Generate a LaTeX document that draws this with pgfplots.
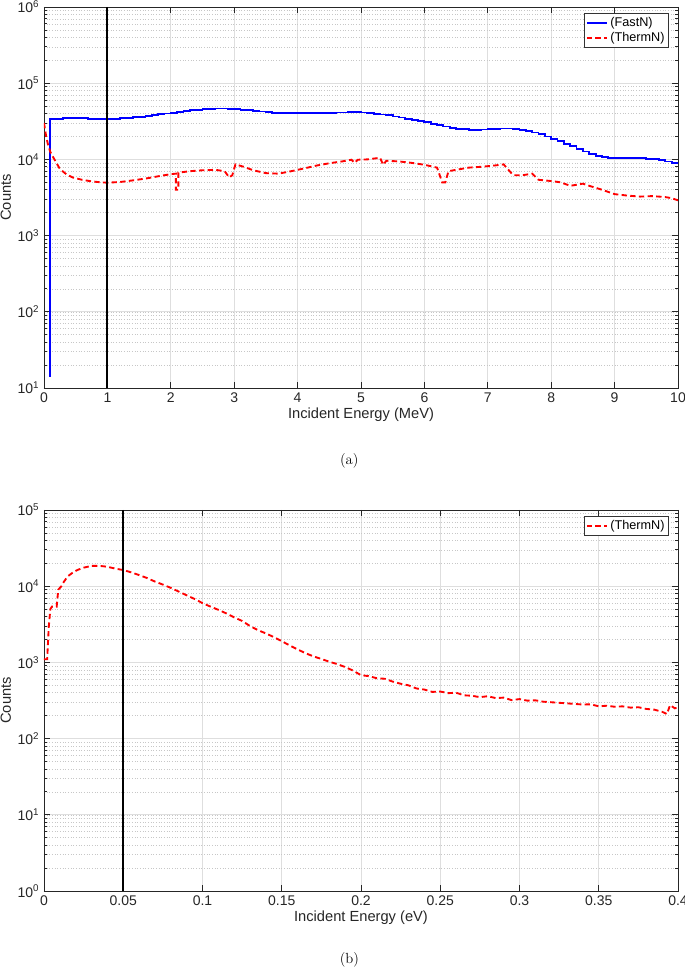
\documentclass[border=0pt]{standalone}
\usepackage{fontspec}
\setsansfont{Liberation Sans}
\usepackage{pgfplots}
\usepackage{pgfplotstable}
\pgfplotsset{compat=1.18}

\pgfplotstableread{
x y
0.1 14
0.1 3.40e4
0.2 3.42e4
0.3 3.45e4
0.4 3.46e4
0.5 3.46e4
0.6 3.45e4
0.7 3.43e4
0.8 3.41e4
0.9 3.38e4
1.0 3.38e4
1.1 3.40e4
1.2 3.45e4
1.3 3.50e4
1.4 3.56e4
1.5 3.62e4
1.6 3.70e4
1.7 3.80e4
1.8 3.90e4
1.9 4.00e4
2.0 4.10e4
2.1 4.20e4
2.2 4.30e4
2.3 4.40e4
2.4 4.48e4
2.5 4.55e4
2.6 4.60e4
2.7 4.65e4
2.8 4.65e4
2.9 4.62e4
3.0 4.58e4
3.1 4.50e4
3.2 4.42e4
3.3 4.33e4
3.4 4.25e4
3.5 4.17e4
3.6 4.10e4
3.7 4.06e4
3.8 4.03e4
3.9 4.02e4
4.0 4.02e4
4.1 4.03e4
4.2 4.05e4
4.3 4.07e4
4.4 4.09e4
4.5 4.10e4
4.6 4.12e4
4.7 4.13e4
4.8 4.14e4
4.9 4.14e4
5.0 4.12e4
5.1 4.05e4
5.2 3.97e4
5.3 3.88e4
5.4 3.78e4
5.5 3.66e4
5.6 3.55e4
5.7 3.43e4
5.8 3.32e4
5.9 3.20e4
6.0 3.08e4
6.1 2.95e4
6.2 2.82e4
6.3 2.70e4
6.4 2.60e4
6.5 2.53e4
6.6 2.48e4
6.7 2.46e4
6.8 2.46e4
6.9 2.47e4
7.0 2.49e4
7.1 2.52e4
7.2 2.54e4
7.3 2.54e4
7.4 2.50e4
7.5 2.44e4
7.6 2.36e4
7.7 2.25e4
7.8 2.13e4
7.9 2.00e4
8.0 1.87e4
8.1 1.74e4
8.2 1.60e4
8.3 1.48e4
8.4 1.37e4
8.5 1.27e4
8.6 1.19e4
8.7 1.12e4
8.8 1.07e4
8.9 1.04e4
9.0 1.03e4
9.1 1.03e4
9.2 1.04e4
9.3 1.04e4
9.4 1.04e4
9.5 1.02e4
9.6 1.00e4
9.7 9.7e3
9.8 9.4e3
9.9 9.0e3
10.0 8.8e3
}\fastN

\pgfplotstableread{
x y
0 3.0e4
0.03 2.1e4
0.06 1.6e4
0.1 1.25e4
0.15 1.05e4
0.25 7.5e3
0.35 6.4e3
0.45 5.8e3
0.6 5.4e3
0.75 5.15e3
0.9 5.0e3
1.0 4.95e3
1.2 5.05e3
1.4 5.3e3
1.6 5.6e3
1.8 6.0e3
2.0 6.4e3
2.08 6.5e3
2.08 4.0e3
2.12 4.0e3
2.12 6.7e3
2.3 7.0e3
2.5 7.2e3
2.7 7.3e3
2.85 7.0e3
2.92 5.8e3
2.97 6.2e3
3.02 8.6e3
3.15 8.0e3
3.3 7.2e3
3.5 6.6e3
3.7 6.5e3
3.9 7.0e3
4.1 7.6e3
4.3 8.3e3
4.5 8.9e3
4.7 9.4e3
4.85 9.9e3
4.9 9.0e3
4.95 9.9e3
5.1 1.0e4
5.3 1.05e4
5.35 8.5e3
5.4 9.6e3
5.6 9.4e3
5.8 9.0e3
6.0 8.5e3
6.2 7.8e3
6.28 5.0e3
6.33 5.0e3
6.38 7.0e3
6.5 7.3e3
6.7 7.8e3
6.9 8.0e3
7.1 8.3e3
7.25 8.6e3
7.4 6.2e3
7.55 6.2e3
7.7 6.5e3
7.8 5.4e3
8.0 5.2e3
8.15 5.0e3
8.3 4.5e3
8.5 4.8e3
8.6 4.5e3
8.8 4.0e3
9.0 3.5e3
9.2 3.35e3
9.4 3.25e3
9.6 3.3e3
9.8 3.2e3
9.9 3.1e3
10 2.9e3
}\thermTop

\pgfplotstableread{
x y
0.0 1100
0.002 1100
0.003 2900
0.004 5000
0.005 5400
0.008 5400
0.009 9000
0.011 10000
0.012 11000
0.015 13500
0.018 15000
0.021 16300
0.025 17500
0.03 18500
0.035 18500
0.04 18000
0.045 17000
0.05 16300
0.055 15200
0.06 14000
0.065 12800
0.07 11500
0.075 10500
0.08 9500
0.085 8500
0.09 7600
0.095 6800
0.10 6000
0.105 5400
0.11 4900
0.115 4400
0.12 3900
0.125 3500
0.13 3000
0.135 2650
0.14 2400
0.145 2150
0.15 1900
0.155 1670
0.16 1480
0.165 1320
0.17 1200
0.175 1110
0.18 1020
0.185 950
0.19 870
0.195 780
0.20 680
0.205 660
0.21 620
0.215 610
0.22 560
0.225 525
0.23 500
0.235 455
0.24 440
0.245 410
0.25 415
0.255 395
0.26 400
0.265 370
0.27 365
0.275 350
0.28 360
0.285 340
0.29 345
0.295 320
0.30 330
0.305 315
0.31 318
0.315 305
0.32 300
0.325 295
0.33 290
0.335 285
0.34 280
0.345 282
0.35 265
0.355 270
0.36 262
0.365 265
0.37 255
0.375 258
0.38 245
0.385 240
0.39 225
0.393 210
0.395 275
0.398 250
0.4 255
}\thermBot

\pgfplotsset{
 mystyle/.style={
  scale only axis, width=475.5pt, height=285.75pt,
  axis line style={black!85, line width=0.7pt},
  tick align=inside,
  major tick length=4.5pt, minor tick length=2.3pt,
  every tick/.style={black!85, line width=0.6pt},
  xmajorgrids, ymajorgrids, yminorgrids,
  major grid style={black!13, line width=0.5pt},
  minor grid style={black!22, line width=0.4pt, dash pattern=on 0.6pt off 1.4pt},
  tick label style={font=\sffamily\fontsize{10.5}{12}\selectfont, black!85},
  label style={font=\sffamily\fontsize{11}{13}\selectfont, black!85},
  xlabel style={yshift=3pt},
  ylabel style={yshift=-2pt},
  legend style={at={(1,1)}, anchor=north east, xshift=-6.75pt, yshift=-4.5pt,
    draw=black!80, line width=0.6pt, font=\sffamily\fontsize{9.5}{10}\selectfont,
    inner sep=1pt, row sep=-1pt},
  legend cell align=left,
 }
}

\begin{document}
\begin{tikzpicture}
\path[use as bounding box] (-33pt,-439.5pt) rectangle (480.75pt,291pt);
\begin{semilogyaxis}[mystyle, at={(0,0)}, anchor=south west,
  legend image code/.code={\draw[#1] (0pt,0pt) -- (15pt,0pt);},
  xmin=0, xmax=10, ymin=10, ymax=1e6,
  xtick={0,1,...,10},
  xticklabels={0,1,2,3,4,5,6,7,8,9,10},
  ytick={10,100,1000,10000,100000,1000000},
  yticklabels={10\textsuperscript{1},10\textsuperscript{2},10\textsuperscript{3},10\textsuperscript{4},10\textsuperscript{5},10\textsuperscript{6}},
  xlabel={Incident Energy (MeV)}, ylabel={Counts}]
\addplot[const plot mark left, draw=blue, line width=1.4pt] table[x=x,y=y] {\fastN};
\addlegendentry{(FastN)}
\addplot[red, line width=1.4pt, dash pattern=on 4pt off 2.5pt] table[x=x,y=y] {\thermTop};
\addlegendentry{(ThermN)}
\addplot[black, line width=1.5pt, forget plot] coordinates {(1,10) (1,1e6)};
\end{semilogyaxis}

\begin{semilogyaxis}[mystyle, at={(0,-377.25pt)}, anchor=south west,
  legend image code/.code={\draw[#1] (0pt,0pt) -- (15pt,0pt);},
  xmin=0, xmax=0.4, ymin=1, ymax=1e5,
  xtick={0,0.05,...,0.4},
  xticklabels={0,0.05,0.1,0.15,0.2,0.25,0.3,0.35,0.4},
  ytick={1,10,100,1000,10000,100000},
  yticklabels={10\textsuperscript{0},10\textsuperscript{1},10\textsuperscript{2},10\textsuperscript{3},10\textsuperscript{4},10\textsuperscript{5}},
  xlabel={Incident Energy (eV)}, ylabel={Counts}]
\addplot[red, line width=1.4pt, dash pattern=on 4pt off 2.5pt] table[x=x,y=y] {\thermBot};
\addlegendentry{(ThermN)}
\addplot[black, line width=1.5pt, forget plot] coordinates {(0.05,1) (0.05,1e5)};
\end{semilogyaxis}

\node[font=\fontsize{11}{13}\selectfont] at (229pt,-54.75pt) {(a)};
\node[font=\fontsize{11}{13}\selectfont] at (229pt,-429pt) {(b)};
\end{tikzpicture}
\end{document}
